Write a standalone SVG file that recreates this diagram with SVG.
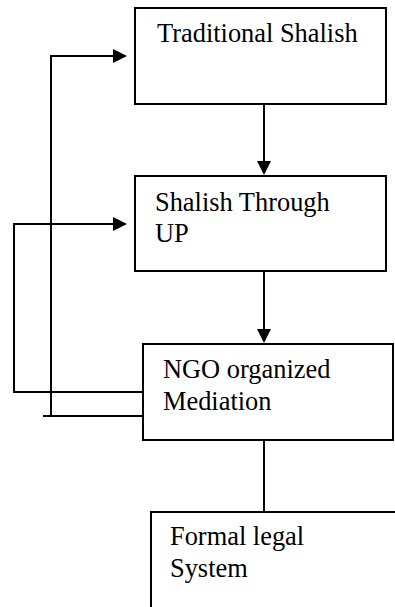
<svg xmlns="http://www.w3.org/2000/svg" width="395" height="607" viewBox="0 0 395 607">
<style>
.box{fill:#fff;stroke:#000;stroke-width:2}
.lbl{font-family:"Liberation Serif","Times New Roman",serif;font-size:26.4px;fill:#000}
.ln{fill:none;stroke:#000;stroke-width:2}
.ah{fill:#000}
</style>
<rect width="395" height="607" fill="#fff"/>
<g id="connectors">
<line class="ln" x1="264" y1="104" x2="264" y2="162"/>
<polygon class="ah" points="257,161 271,161 264,175"/>
<line class="ln" x1="264" y1="271" x2="264" y2="330"/>
<polygon class="ah" points="257,329 271,329 264,343"/>
<line class="ln" x1="264" y1="440" x2="264" y2="512"/>
<polyline class="ln" points="143,392 14,392 14,224 114,224"/>
<polygon class="ah" points="113,217 113,231 127,224"/>
<polyline class="ln" points="51,416 51,56 114,56"/>
<polygon class="ah" points="113,49 113,63 127,56"/>
<line class="ln" x1="43" y1="416" x2="143" y2="416"/>
</g>
<g id="traditional-shalish">
<rect class="box" x="135" y="8" width="251" height="96"/>
<text class="lbl" x="157" y="42">Traditional Shalish</text>
</g>
<g id="shalish-through-up">
<rect class="box" x="135" y="176" width="251" height="95"/>
<text class="lbl" x="155" y="211">Shalish Through</text>
<text class="lbl" x="155" y="242">UP</text>
</g>
<g id="ngo-mediation">
<rect class="box" x="143" y="344" width="250" height="96"/>
<text class="lbl" x="163" y="378">NGO organized</text>
<text class="lbl" x="163" y="410">Mediation</text>
</g>
<g id="formal-legal-system">
<polyline class="ln" points="151,610 151,512 397,512"/>
<text class="lbl" x="170" y="545">Formal legal</text>
<text class="lbl" x="170" y="577">System</text>
</g>
</svg>
